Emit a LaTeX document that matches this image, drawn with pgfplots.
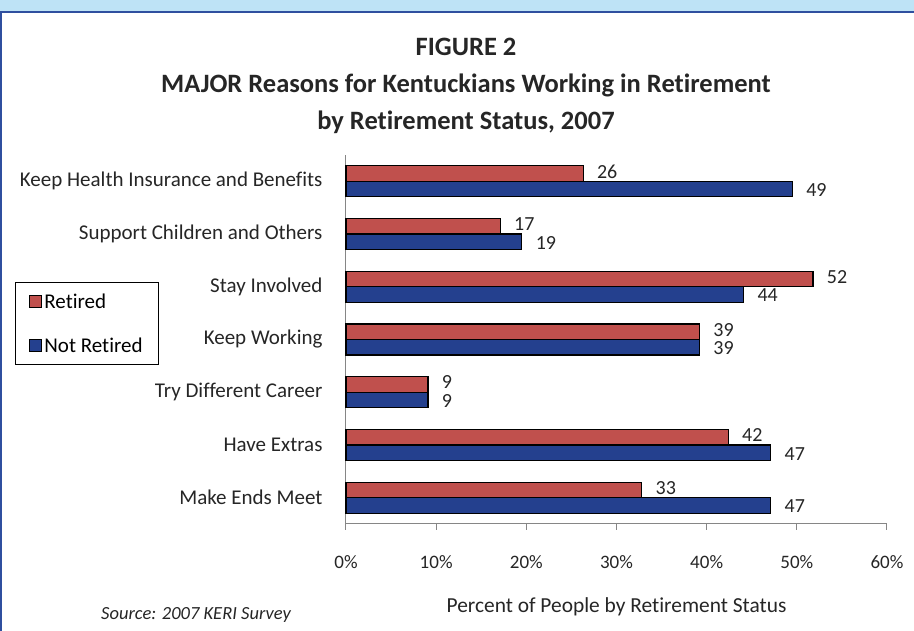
\documentclass[border=0pt]{standalone}
\usepackage{fontspec}
\setmainfont{Carlito}[Ligatures=NoCommon]
\usepackage{pgfplots}
\pgfplotsset{compat=1.18}
\definecolor{retired}{HTML}{C0504D}
\definecolor{notretired}{HTML}{24408E}
\definecolor{frameblue}{HTML}{2F4F9F}
\definecolor{bandblue}{HTML}{BEE3F6}
\definecolor{axisgray}{HTML}{868686}
\definecolor{txt}{HTML}{262626}
\begin{document}
\begin{tikzpicture}
\useasboundingbox (0pt,0pt) rectangle (914pt,631pt);
\fill[white] (0pt,0pt) rectangle (914pt,631pt);
\fill[bandblue] (0pt,619pt) rectangle (914pt,631pt);
\draw[frameblue, line width=2.5pt] (1.2pt,0pt) -- (1.2pt,619pt) -- (914pt,619pt);

% title and source
\node[font=\bfseries\fontsize{26.5}{37}\selectfont, align=center, text=txt] at (466pt,545pt)
  {FIGURE 2\\MAJOR Reasons for Kentuckians Working in Retirement\\by Retirement Status, 2007};
\node[font=\itshape\fontsize{18.5}{20}\selectfont, text=txt] at (196pt,16pt) {Source: 2007 KERI Survey};

\begin{axis}[
    at={(346pt,107pt)}, anchor=south west,
    scale only axis, width=541pt, height=369pt,
    xbar, bar width=15.5pt,
    xmin=0, xmax=60, ymin=-0.5, ymax=6.5,
    clip=false,
    axis x line*=bottom, axis y line*=left,
    axis line style={axisgray, line width=1pt},
    tick align=outside,
    xtick={0,10,...,60},
    xticklabels={0\%,10\%,20\%,30\%,40\%,50\%,60\%},
    xtick style={axisgray, line width=1pt},
    major tick length=6pt, minor tick length=6pt,
    ytick={0,...,6},
    yticklabels={Make Ends Meet, Have Extras, Try Different Career, Keep Working,
                 Stay Involved, Support Children and Others, Keep Health Insurance and Benefits},
    ytick style={draw=none},
    minor ytick={-0.5,0.5,...,6.5},
    minor tick style={axisgray, line width=1pt},
    yticklabel style={font=\fontsize{21}{23}\selectfont, text=txt, xshift=-14pt},
    xticklabel style={font=\fontsize{19}{21}\selectfont, text=txt, yshift=-22pt},
    xlabel={Percent of People by Retirement Status},
    xlabel style={font=\fontsize{21.4}{23}\selectfont, text=txt,
                  at={(axis description cs:0.5,0)}, anchor=center, yshift=-83pt},
    legend style={at={(axis description cs:-0.612,0.656)}, anchor=north west,
                  draw=black, line width=1pt, font=\fontsize{21}{23}\selectfont,
                  row sep=24pt, inner xsep=14pt, inner ysep=9pt},
    legend cell align=left,
    legend image code/.code={\draw[#1, draw=black, line width=1pt] (0pt,-6pt) rectangle (12pt,6pt);},
    point meta=explicit symbolic,
    nodes near coords={\pgfplotspointmeta},
    every node near coord/.append style={font=\fontsize{20}{22}\selectfont, text=txt,
                  anchor=west, inner ysep=0pt, xshift=10pt},
]
\addplot[fill=retired, draw=black, line width=1.2pt, bar shift=7.75pt,
         every node near coord/.append style={yshift=2pt}] coordinates {
(32.8,0) [33] (42.4,1) [42] (9.1,2) [9] (39.2,3) [39]
(51.8,4) [52] (17.1,5) [17] (26.3,6) [26]
};
\addlegendentry{Retired}
\addplot[fill=notretired, draw=black, line width=1.2pt, bar shift=-7.75pt,
         every node near coord/.append style={yshift=-1pt}] coordinates {
(47.1,0) [47] (47.1,1) [47] (9.1,2) [9] (39.2,3) [39]
(44.1,4) [44] (19.5,5) [19] (49.5,6) [49]
};
\addlegendentry{Not Retired}
\end{axis}
\end{tikzpicture}
\end{document}
